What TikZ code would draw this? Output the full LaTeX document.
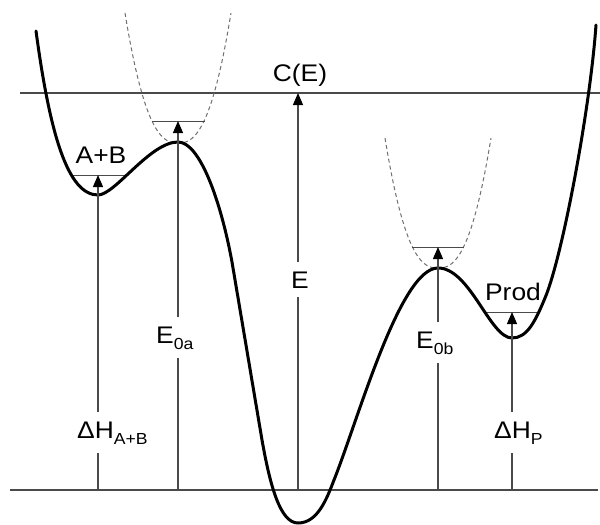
\documentclass[tikz,border=0pt]{standalone}
\usepackage{fontspec}
\setmainfont{Liberation Sans}[FakeStretch=1.1]
\usetikzlibrary{arrows.meta}
\definecolor{linegray}{HTML}{4A4A4A}
\definecolor{dashgray}{HTML}{707070}
\newcommand{\lsub}[1]{\raisebox{-6pt}{\fontsize{16}{16}\selectfont #1}}
\begin{document}
\begin{tikzpicture}[x=1pt,y=-1pt,
  lab/.style={inner sep=0pt, font=\fontsize{24}{28}\selectfont},
  gaplab/.style={inner xsep=0pt, inner ysep=9pt, anchor=base west, font=\fontsize{24}{28}\selectfont},
  hline/.style={draw=linegray, line width=1.4pt},
  vline/.style={draw=linegray, line width=1.2pt},
  arr/.style={-{Triangle[width=10pt,length=12pt,color=black]}},
  level/.style={draw=linegray, line width=1pt},
  pes/.style={draw=black, line width=3pt, line cap=round, line join=round},
  harm/.style={draw=dashgray, line width=1pt, dash pattern=on 4pt off 3pt}]
\useasboundingbox (0,0) rectangle (600,525);
% reference lines
\coordinate (topL) at (20,93);
\coordinate (topR) at (600,93);
\coordinate (botL) at (10,490);
\coordinate (botR) at (598,490);
\draw[hline] (topL) -- (topR);
\draw[hline] (botL) -- (botR);
% harmonic (dashed) wells at the barriers
\draw[harm] plot[domain=-1:1, samples=61] ({178+53*\x}, {143-130*\x*\x*sqrt(abs(\x))});
\draw[harm] plot[domain=-1:1, samples=61] ({438+53*\x}, {268-130*\x*\x*sqrt(abs(\x))});
% levels
\coordinate (abL) at (73,175);  \coordinate (abR) at (128,175);
\coordinate (aL) at (152,121);  \coordinate (aR) at (205,121);
\coordinate (bL) at (412,247);  \coordinate (bR) at (464,247);
\coordinate (pL) at (485,312);  \coordinate (pR) at (540,312);
\draw[level] (abL) -- (abR);
\draw[level] (aL) -- (aR);
\draw[level] (bL) -- (bR);
\draw[level] (pL) -- (pR);
% potential energy surface
\draw[pes] (36,31) .. controls (50,135) and (68,195) .. (98,195)
  .. controls (115,195) and (150,142) .. (178,142)
  .. controls (200,142) and (221,202) .. (232,262)
  -- (262,440)
  .. controls (270,485) and (280,523) .. (298,523)
  .. controls (318,523) and (327,498) .. (334,480)
  .. controls (358,420) and (400,268) .. (438,268)
  .. controls (470,268) and (490,338) .. (512,338)
  .. controls (527,338) and (535,322) .. (545,298)
  .. controls (562,258) and (590,110) .. (596,25);
% labels
\node[lab] (lCE) at (300,75) {C(E)};
\node[lab] (lAB) at (101,155) {A+B};
\node[lab] (lProd) at (513,292) {Prod};
\node[gaplab] (lE) at (291,288) {E};
\node[gaplab] (lEa) at (156,343) {E\lsub{0a}};
\node[gaplab] (lEb) at (416,348) {E\lsub{0b}};
\node[gaplab] (lHab) at (77,438) {ΔH\lsub{A+B}};
\node[gaplab] (lHp) at (494,438) {ΔH\lsub{P}};
% arrow bases
\coordinate (b1) at (98,490);
\coordinate (b2) at (178,490);
\coordinate (b3) at (298,490);
\coordinate (b4) at (438,490);
\coordinate (b5) at (512,490);
\coordinate (t1) at (98,175);
\coordinate (t2) at (178,121);
\coordinate (t3) at (298,93);
\coordinate (t4) at (438,247);
\coordinate (t5) at (512,312);
\draw[vline] (b1) -- (b1 |- lHab.south);
\draw[vline, arr] (b1 |- lHab.north) -- (t1);
\draw[vline] (b2) -- (b2 |- lEa.south);
\draw[vline, arr] (b2 |- lEa.north) -- (t2);
\draw[vline] (b3) -- (b3 |- lE.south);
\draw[vline, arr] (b3 |- lE.north) -- (t3);
\draw[vline] (b4) -- (b4 |- lEb.south);
\draw[vline, arr] (b4 |- lEb.north) -- (t4);
\draw[vline] (b5) -- (b5 |- lHp.south);
\draw[vline, arr] (b5 |- lHp.north) -- (t5);
\end{tikzpicture}
\end{document}
